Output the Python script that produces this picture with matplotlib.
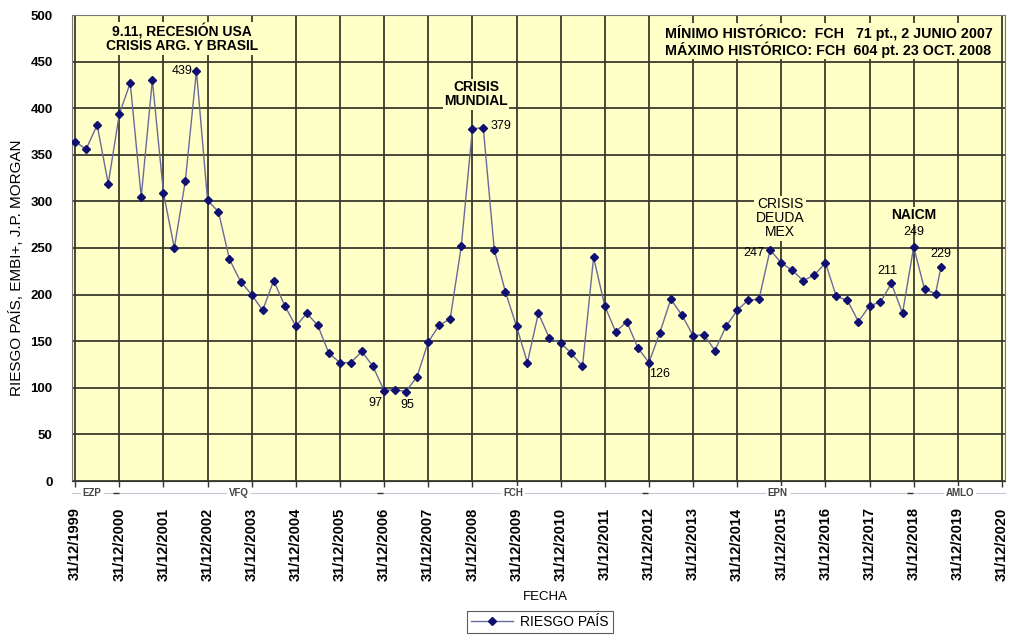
import matplotlib
matplotlib.use('Agg')
import matplotlib.pyplot as plt
import matplotlib.transforms as mtransforms
from matplotlib.lines import Line2D
import pandas as pd

plt.rcParams['font.family'] = ['Liberation Sans', 'DejaVu Sans']

# ---------------- data ----------------
fechas = [
    "1999-12-31", "2000-03-31", "2000-06-30", "2000-09-30", "2000-12-31",
    "2001-03-31", "2001-06-30", "2001-09-30", "2001-12-31",
    "2002-03-31", "2002-06-30", "2002-09-30", "2002-12-31",
    "2003-03-31", "2003-06-30", "2003-09-30", "2003-12-31",
    "2004-03-31", "2004-06-30", "2004-09-30", "2004-12-31",
    "2005-03-31", "2005-06-30", "2005-09-30", "2005-12-31",
    "2006-03-31", "2006-06-30", "2006-09-30", "2006-12-31",
    "2007-03-31", "2007-06-30", "2007-09-30", "2007-12-31",
    "2008-03-31", "2008-06-30", "2008-09-30", "2008-12-31",
    "2009-03-31", "2009-06-30", "2009-09-30", "2009-12-31",
    "2010-03-31", "2010-06-30", "2010-09-30", "2010-12-31",
    "2011-03-31", "2011-06-30", "2011-09-30", "2011-12-31",
    "2012-03-31", "2012-06-30", "2012-09-30", "2012-12-31",
    "2013-03-31", "2013-06-30", "2013-09-30", "2013-12-31",
    "2014-03-31", "2014-06-30", "2014-09-30", "2014-12-31",
    "2015-03-31", "2015-06-30", "2015-09-30", "2015-12-31",
    "2016-03-31", "2016-06-30", "2016-09-30", "2016-12-31",
    "2017-03-31", "2017-06-30", "2017-09-30", "2017-12-31",
    "2018-03-31", "2018-06-30", "2018-09-30", "2018-12-31",
    "2019-03-31", "2019-06-30", "2019-08-15",
]
riesgo_pais = [
    364, 356, 382, 319, 394,
    427, 305, 430, 309,
    250, 322, 440, 301,
    289, 238, 214, 200,
    183, 215, 188, 166,
    180, 167, 137, 127,
    127, 139, 123, 97,
    98, 96, 112, 149,
    167, 174, 252, 378,
    379, 248, 203, 166,
    127, 180, 153, 148,
    137, 123, 240, 188,
    160, 171, 143, 127,
    159, 195, 178, 156,
    157, 140, 166, 183,
    194, 195, 248, 234,
    226, 215, 221, 234,
    198, 194, 171, 188,
    192, 212, 180, 251,
    206, 201, 230,
]
tick_years = list(range(1999, 2021))
tick_labels = [f"31/12/{y}" for y in tick_years]

presidentes = ["EZP", "VFQ", "FCH", "EPN", "AMLO"]
presidente_centro = ["2000-05-20", "2003-09-15", "2009-12-01", "2015-12-01", "2020-01-20"]
cambios_gobierno = ["2000-12-01", "2006-12-01", "2012-12-01", "2018-12-01"]

x = pd.to_datetime(fechas)

# ---------------- figure ----------------
W, H = 1009, 636
fig = plt.figure(figsize=(W / 100, H / 100), dpi=100)
L, R, T, B = 72, 1005, 15, 481
ax = fig.add_axes([L / W, 1 - B / H, (R - L) / W, (B - T) / H])
bg = '#FFFFC8'
ax.set_facecolor(bg)

line_col = '#6a6a9a'
mk_col = '#101070'
ax.plot(x, riesgo_pais, color=line_col, lw=1.0, marker='D', markersize=4,
        markerfacecolor=mk_col, markeredgecolor=mk_col, zorder=3)

ax.set_xlim(pd.Timestamp("1999-12-05"), pd.Timestamp("2021-01-25"))
ax.set_ylim(0, 500)

ticks = [pd.Timestamp(f"{y}-12-31") for y in tick_years]
ax.set_xticks(ticks)
ax.set_xticklabels(tick_labels, rotation=90, fontsize=10.5, fontweight='bold', va='top')
ax.set_yticks(range(0, 501, 50))
ax.tick_params(axis='y', labelsize=9.5, length=0, pad=14)
for t in ax.get_yticklabels():
    t.set_fontweight('bold')
ax.tick_params(axis='x', direction='out', length=4, width=1, color='#333333', pad=15)

grid_col = '#3a3a2c'
ax.grid(True, color=grid_col, lw=1.3)
ax.set_axisbelow(True)
for s in ax.spines.values():
    s.set_color('#777777')
    s.set_linewidth(0.8)
ax.spines['bottom'].set_color('#333333')

# y label / x label
fig.text(17 / W, 1 - 268 / H, "RIESGO PAÍS, EMBI+, J.P. MORGAN", rotation=90,
         ha='center', va='center', fontsize=11)
fig.text(545 / W, 1 - 597 / H, "FECHA", ha='center', va='center', fontsize=9.5)

# ---------------- annotations ----------------
box = dict(facecolor=bg, edgecolor='none', pad=1.0)
ax.text(pd.Timestamp("2002-06-01"), 475, "9.11, RECESIÓN USA\nCRISIS ARG. Y BRASIL",
        ha='center', va='center', fontsize=10, fontweight='bold', linespacing=1.0,
        bbox=box, zorder=4)
ax.text(pd.Timestamp("2009-02-01"), 415, "CRISIS\nMUNDIAL",
        ha='center', va='center', fontsize=10, fontweight='bold', linespacing=1.0,
        bbox=box, zorder=4)
ax.text(pd.Timestamp("2013-05-10"), 472,
        "MÍNIMO HISTÓRICO:  FCH   71 pt., 2 JUNIO 2007\nMÁXIMO HISTÓRICO: FCH  604 pt. 23 OCT. 2008",
        ha='left', va='center', fontsize=10.3, fontweight='bold', linespacing=1.0,
        bbox=box, zorder=4)
ax.text(pd.Timestamp("2015-12-20"), 282, "CRISIS\nDEUDA\nMEX",
        ha='center', va='center', fontsize=10, linespacing=1.0, bbox=box, zorder=4)
ax.text(pd.Timestamp("2018-12-31"), 285, "NAICM",
        ha='center', va='center', fontsize=10, fontweight='bold', bbox=box, zorder=4)

def lab(i, txt, dx, dy, ha='center'):
    ax.annotate(txt, (x[i], riesgo_pais[i]), xytext=(dx, dy), textcoords='offset points',
                ha=ha, va='center', fontsize=9, zorder=5)

lab(11, "439", -3, 0, 'right')
lab(37, "379", 13, 1, 'center')
lab(28, "97", -6, -9, 'center')
lab(30, "95", 1, -10, 'center')
lab(52, "126", 8, -8, 'center')
lab(63, "247", -4, -2, 'right')
lab(74, "211", -3, 9, 'center')
lab(76, "249", 0, 11, 'center')
lab(79, "229", 0, 9, 'center')

# ---------------- presidential band ----------------
trans = mtransforms.blended_transform_factory(ax.transData, ax.transAxes)
yb = -0.025
ax.plot([0, 1], [yb, yb], transform=ax.transAxes, color='#c8c8d8', lw=0.8, clip_on=False)
for nm, c in zip(presidentes, presidente_centro):
    ax.text(pd.Timestamp(c), yb, nm, transform=trans, ha='center', va='center',
            fontsize=7, fontweight='bold', color='#444444',
            bbox=dict(facecolor='white', edgecolor='none', pad=1.5), clip_on=False)
for c in cambios_gobierno:
    ax.plot([pd.Timestamp(c)], [yb], transform=trans, marker='_', markersize=4,
            color='#333333', clip_on=False)

# ---------------- legend ----------------
h = Line2D([], [], color=line_col, lw=1.0, marker='D', markersize=4,
           markerfacecolor=mk_col, markeredgecolor=mk_col)
leg = fig.legend([h], ["RIESGO PAÍS"], loc='center', bbox_to_anchor=(540 / W, 1 - 622 / H),
                 fontsize=10, frameon=True, fancybox=False, edgecolor='#333333',
                 handlelength=3, borderpad=0.3, handletextpad=0.5)
leg.get_frame().set_linewidth(0.8)

fig.savefig("out.png", dpi=100, facecolor='white')
